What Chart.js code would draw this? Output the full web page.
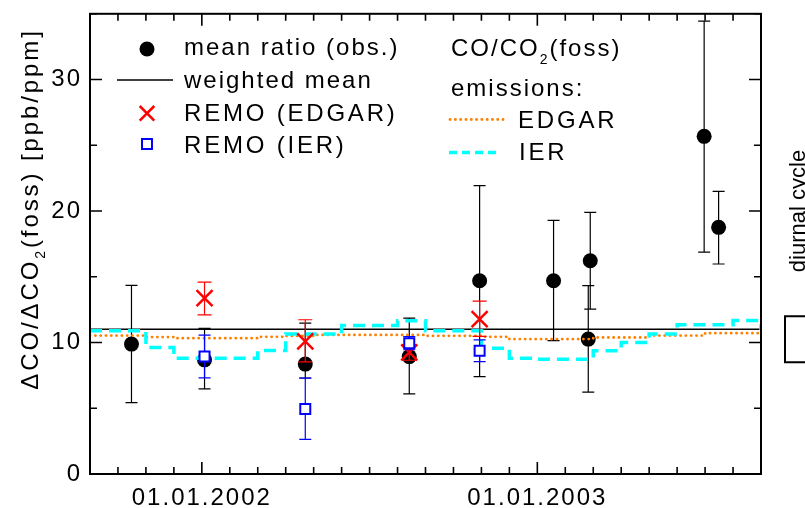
<!DOCTYPE html>
<html><head><meta charset="utf-8">
<style>html,body{margin:0;padding:0;background:#fff;}canvas{display:block;}</style>
<script src="https://cdn.jsdelivr.net/npm/chart.js@4.4.0/dist/chart.umd.min.js"></script>
</head><body>
<canvas id="c" width="805" height="508" style="width:805px;height:508px"></canvas>
<script>
const FONT = "'Liberation Sans', Arial, Helvetica, sans-serif";
const SPACING = '2px';

// ---- observed mean ratios (dates, values, error bar ends)
const obsDates = ['2001-10-16','2002-01-04','2002-04-22','2002-08-14','2002-10-30','2003-01-19','2003-02-26','2003-02-24','2003-06-30','2003-07-16'];
const obsRatio = [9.88, 8.68, 8.36, 8.93, 14.70, 14.70, 16.22, 10.26, 25.68, 18.76];
const obsLow   = [5.43, 6.47, 7.30, 6.09, 7.41, 10.15, 12.54, 6.22, 16.88, 15.97];
const obsHigh  = [14.34, 11.07, 11.48, 11.86, 21.93, 19.29, 19.90, 14.32, 34.45, 21.50];

// ---- REMO model results
const remoDates = ['2002-01-04','2002-04-22','2002-08-14','2002-10-30'];
const remoEdgar     = [13.38, 10.08, 9.25, 11.78];
const remoEdgarLow  = [12.10, 8.53, 8.65, 10.46];
const remoEdgarHigh = [14.60, 11.73, 9.85, 13.15];
const remoIer       = [8.93, 4.95, 9.95, 9.37];
const remoIerLow    = [7.31, 2.64, 9.45, 8.55];
const remoIerHigh   = [10.56, 7.29, 10.45, 10.20];

// ---- weighted mean
const weightedMean = 11.0;

// ---- monthly emission ratios (value holds from the month start)
const emissionMonths = ['2001-09','2001-10','2001-11','2001-12','2002-01','2002-02','2002-03','2002-04','2002-05','2002-06','2002-07','2002-08',
                        '2002-09','2002-10','2002-11','2002-12','2003-01','2003-02','2003-03','2003-04','2003-05','2003-06','2003-07','2003-08','2003-09'];
const edgarEmission = [10.53,10.53,10.41,10.33,10.33,10.33,10.43,10.50,10.58,10.58,10.58,10.58,
                       10.51,10.51,10.43,10.26,10.26,10.26,10.38,10.38,10.53,10.53,10.71,10.71,10.71];
const ierEmission   = [10.89,10.89,9.62,8.81,8.81,8.81,9.39,10.64,10.64,11.29,11.29,11.65,
                       10.89,10.89,9.57,8.81,8.73,8.73,9.37,10.00,10.64,11.35,11.35,11.68,10.95];

// ---- diurnal cycle bracket
const diurnalRange = [8.5, 12.0];

// ---- ticks
const yTickValues = [0, 10, 20, 30];
const yTickLabels = ['0', '10', '20', '30'];
const xTickYears  = [2002, 2003];
const xTickLabels = ['01.01.2002', '01.01.2003'];

function decYear(s) {
  const p = s.split('-').map(Number);
  const y = p[0], m = p[1], d = p[2] || 1;
  const dim = new Date(y, m, 0).getDate();
  return y + (m - 1) / 12 + (d - 1) / dim / 12;
}
const xMin = decYear(emissionMonths[0]);
const xMax = decYear(emissionMonths[emissionMonths.length - 1]);
const monthTicks = emissionMonths.map(decYear);

const pts = (dates, vals) => dates.map((d, i) => ({x: decYear(d), y: vals[i]}));

const errorBars = {
  id: 'errorBars',
  beforeDatasetDraw(chart, args) {
    const ds = chart.data.datasets[args.index];
    if (!ds.errLow) return;
    const ys = chart.scales.y, ctx = chart.ctx, w = ds.errCap;
    ctx.save();
    ctx.strokeStyle = ds.errColor; ctx.lineWidth = 1.2;
    args.meta.data.forEach((pt, i) => {
      const x = pt.x;
      const y1 = ys.getPixelForValue(ds.errLow[i]);
      const y2 = ys.getPixelForValue(ds.errHigh[i]);
      ctx.beginPath();
      ctx.moveTo(x, y1); ctx.lineTo(x, y2);
      ctx.moveTo(x - w, y1); ctx.lineTo(x + w, y1);
      ctx.moveTo(x - w, y2); ctx.lineTo(x + w, y2);
      ctx.stroke();
    });
    ctx.restore();
  }
};

const spacingPlugin = {
  id: 'spacing',
  beforeDraw(chart) { chart.ctx.letterSpacing = SPACING; }
};

function drawSubText(ctx, x, y, parts) {
  let cx = x;
  parts.forEach(p => {
    ctx.font = p[1] + 'px ' + FONT;
    ctx.fillText(p[0], cx, y + p[2]);
    cx += ctx.measureText(p[0]).width;
  });
}
function measureSub(ctx, parts) {
  let w = 0;
  parts.forEach(p => { ctx.font = p[1] + 'px ' + FONT; w += ctx.measureText(p[0]).width; });
  return w;
}

const framePlugin = {
  id: 'frame',
  afterDraw(chart) {
    const ctx = chart.ctx, a = chart.chartArea, xs = chart.scales.x, ys = chart.scales.y;
    ctx.save();
    ctx.letterSpacing = SPACING;
    ctx.strokeStyle = '#000'; ctx.lineWidth = 2;
    ctx.strokeRect(a.left, a.top, a.right - a.left, a.bottom - a.top);
    ctx.lineWidth = 1.6;
    ctx.beginPath();
    monthTicks.forEach(v => {
      const px = xs.getPixelForValue(v);
      const major = Math.abs(v - Math.round(v)) < 1e-6;
      const len = major ? 12 : 7;
      ctx.moveTo(px, a.bottom); ctx.lineTo(px, a.bottom - len);
      ctx.moveTo(px, a.top); ctx.lineTo(px, a.top + len);
    });
    for (let v = ys.min; v <= ys.max; v += 5) {
      const py = ys.getPixelForValue(v);
      const len = (v % 10 === 0) ? 12 : 7;
      ctx.moveTo(a.left, py); ctx.lineTo(a.left + len, py);
      ctx.moveTo(a.right, py); ctx.lineTo(a.right - len, py);
    }
    ctx.stroke();

    // y-axis title
    ctx.fillStyle = '#000';
    ctx.textBaseline = 'alphabetic'; ctx.textAlign = 'left';
    ctx.save();
    ctx.letterSpacing = '2.9px';
    const tparts = [['\u0394CO/\u0394CO', 24, 0], ['2', 14, 7], ['(foss) [ppb/ppm]', 24, 0]];
    const tw = measureSub(ctx, tparts);
    ctx.translate(38, 209);
    ctx.rotate(-Math.PI / 2);
    drawSubText(ctx, -tw / 2, 0, tparts);
    ctx.restore();

    // legend
    ctx.font = '24px ' + FONT;
    ctx.fillStyle = '#000';
    ctx.beginPath(); ctx.arc(147, 49, 7.5, 0, Math.PI * 2); ctx.fill();
    ctx.fillText('mean ratio (obs.)', 184, 55);
    ctx.lineWidth = 1.5; ctx.beginPath(); ctx.moveTo(117, 80); ctx.lineTo(173, 80); ctx.stroke();
    ctx.fillText('weighted mean', 184, 88);
    ctx.strokeStyle = '#ff0000'; ctx.lineWidth = 2.5;
    ctx.beginPath(); ctx.moveTo(139.7, 106); ctx.lineTo(154.3, 120.6); ctx.moveTo(154.3, 106); ctx.lineTo(139.7, 120.6); ctx.stroke();
    ctx.save(); ctx.letterSpacing = '2.8px';
    ctx.fillText('REMO (EDGAR)', 184, 121);
    ctx.restore();
    ctx.fillStyle = '#fff'; ctx.strokeStyle = '#0000ff'; ctx.lineWidth = 2;
    ctx.fillRect(142, 139, 10, 10); ctx.strokeRect(142, 139, 10, 10);
    ctx.fillStyle = '#000';
    ctx.font = '24px ' + FONT;
    ctx.save(); ctx.letterSpacing = '2.8px';
    ctx.fillText('REMO (IER)', 184, 153);
    ctx.restore();

    drawSubText(ctx, 451, 56, [['CO/CO', 24, 0], ['2', 14, 8], ['(foss)', 24, 0]]);
    ctx.font = '24px ' + FONT;
    ctx.fillText('emissions:', 451, 96);
    ctx.strokeStyle = '#ff8000'; ctx.lineWidth = 2.8; ctx.lineCap = 'round'; ctx.setLineDash([0.1, 5.2]);
    ctx.beginPath(); ctx.moveTo(450, 119.5); ctx.lineTo(508, 119.5); ctx.stroke();
    ctx.lineCap = 'butt'; ctx.strokeStyle = '#00ffff'; ctx.lineWidth = 3.5; ctx.setLineDash([8, 5]);
    ctx.beginPath(); ctx.moveTo(449, 152.5); ctx.lineTo(501, 152.5); ctx.stroke();
    ctx.setLineDash([]);
    ctx.save(); ctx.letterSpacing = '2.8px';
    ctx.fillText('EDGAR', 518, 128);
    ctx.fillText('IER', 519, 160);
    ctx.restore();

    // diurnal cycle bracket and label
    const yb1 = ys.getPixelForValue(diurnalRange[1]);
    const yb0 = ys.getPixelForValue(diurnalRange[0]);
    const bx = a.right + 24;
    ctx.strokeStyle = '#000'; ctx.lineWidth = 2;
    ctx.beginPath();
    ctx.moveTo(bx + 20, yb1); ctx.lineTo(bx, yb1); ctx.lineTo(bx, yb0); ctx.lineTo(bx + 20, yb0);
    ctx.stroke();
    ctx.save();
    ctx.letterSpacing = '0px';
    ctx.font = '22px ' + FONT;
    ctx.textAlign = 'center';
    ctx.translate(805, 211);
    ctx.rotate(-Math.PI / 2);
    ctx.fillText('diurnal cycle', 0, 0);
    ctx.restore();
    ctx.restore();
  }
};

const noPad = s => { s.paddingTop = 0; s.paddingBottom = 0; s.paddingLeft = 0; s.paddingRight = 0; };

new Chart(document.getElementById('c'), {
  type: 'scatter',
  data: {
    datasets: [
      { label: 'REMO (IER)', data: pts(remoDates, remoIer), pointStyle: 'rect', pointRadius: 7.07, pointHoverRadius: 7.07,
        pointBackgroundColor: '#ffffff', pointBorderColor: '#0000ff', pointBorderWidth: 2, showLine: false, order: 1,
        errLow: remoIerLow, errHigh: remoIerHigh, errColor: '#0000ff', errCap: 6 },
      { label: 'REMO (EDGAR)', data: pts(remoDates, remoEdgar), pointStyle: 'crossRot', pointRadius: 11.3, pointHoverRadius: 11.3,
        pointBorderColor: '#ff0000', pointBackgroundColor: '#ff0000', pointBorderWidth: 2.5, showLine: false, order: 2,
        errLow: remoEdgarLow, errHigh: remoEdgarHigh, errColor: '#ff0000', errCap: 7 },
      { label: 'IER', data: emissionMonths.map((m, i) => ({x: decYear(m), y: ierEmission[i]})), showLine: true, stepped: 'before',
        pointRadius: 0, pointHoverRadius: 0, borderColor: '#00ffff', borderWidth: 3.5, borderDash: [12, 7], fill: false, order: 3 },
      { label: 'EDGAR', data: emissionMonths.map((m, i) => ({x: decYear(m), y: edgarEmission[i]})), showLine: true, stepped: 'before',
        pointRadius: 0, pointHoverRadius: 0, borderColor: '#ff8000', borderWidth: 2.8, borderDash: [0.1, 5.2], borderCapStyle: 'round', fill: false, order: 4 },
      { label: 'weighted mean', data: [{x: xMin, y: weightedMean}, {x: xMax, y: weightedMean}], showLine: true,
        pointRadius: 0, pointHoverRadius: 0, borderColor: '#000000', borderWidth: 1.5, fill: false, order: 5 },
      { label: 'mean ratio (obs.)', data: pts(obsDates, obsRatio), pointStyle: 'circle', pointRadius: 7.5, pointHoverRadius: 7.5,
        pointBackgroundColor: '#000000', pointBorderColor: '#000000', pointBorderWidth: 0, showLine: false, order: 6,
        errLow: obsLow, errHigh: obsHigh, errColor: '#000000', errCap: 6 }
    ]
  },
  options: {
    responsive: false, animation: false, events: [],
    layout: { padding: { top: 13, right: 44, left: 0, bottom: 0 } },
    plugins: { legend: { display: false }, tooltip: { enabled: false }, title: { display: false } },
    scales: {
      x: {
        type: 'linear', min: xMin, max: xMax,
        grid: { display: false, drawTicks: false }, border: { display: false },
        afterBuildTicks: s => { s.ticks = monthTicks.map(v => ({ value: v })); },
        afterFit: s => { s.height = 34; noPad(s); },
        ticks: {
          autoSkip: false, maxRotation: 0, minRotation: 0, padding: 10, color: '#000',
          font: { family: FONT, size: 24 },
          callback: v => { const k = xTickYears.findIndex(yv => Math.abs(yv - v) < 1e-6); return k >= 0 ? xTickLabels[k] : ''; }
        }
      },
      y: {
        min: 0, max: 35,
        grid: { display: false, drawTicks: false }, border: { display: false },
        afterBuildTicks: s => { s.ticks = yTickValues.map(v => ({ value: v })); },
        afterFit: s => { s.width = 90; noPad(s); },
        ticks: {
          padding: 8, color: '#000', font: { family: FONT, size: 24 },
          callback: v => { const k = yTickValues.indexOf(v); return k >= 0 ? yTickLabels[k] : ''; }
        }
      }
    }
  },
  plugins: [spacingPlugin, errorBars, framePlugin]
});
</script>
</body></html>
